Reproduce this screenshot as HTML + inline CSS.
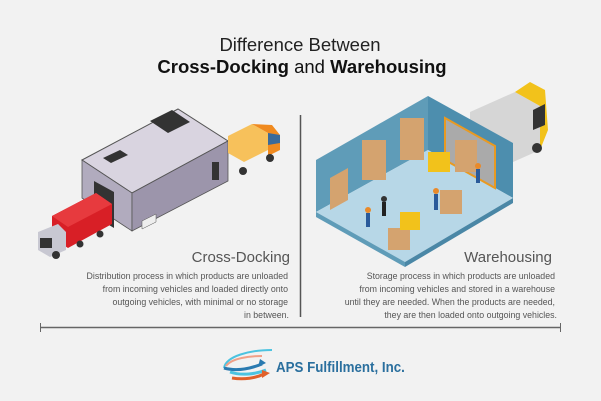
<!DOCTYPE html>
<html><head><meta charset="utf-8"><style>
html,body{margin:0;padding:0;background:#f2f2f2}
svg{display:block}
text{font-family:"Liberation Sans",sans-serif}
</style></head><body>
<svg width="601" height="401" viewBox="0 0 601 401" xmlns="http://www.w3.org/2000/svg">
<rect width="601" height="401" fill="#f2f2f2"/>
<text x="300" y="51" font-size="18.5" text-anchor="middle" fill="#222">Difference Between</text>
<text x="302" y="73" font-size="18.5" text-anchor="middle" fill="#111"><tspan font-weight="bold">Cross-Docking</tspan> and <tspan font-weight="bold">Warehousing</tspan></text>

<!-- Cross-dock building -->
<polygon points="82,160 178,109 228,141 132,193" fill="#d9d4e0" stroke="#555" stroke-width="1"/>
<polygon points="82,160 132,193 132,231 82,198" fill="#b1abbe" stroke="#555" stroke-width="0.8"/>
<polygon points="132,193 228,141 228,181 132,231" fill="#9c95ab" stroke="#555" stroke-width="0.8"/>
<polygon points="150,121 172,110 190,122 168,133" fill="#333"/>
<polygon points="103,158 120,150 128,155 111,163" fill="#333"/>
<polygon points="94,181 114,192 114,228 94,216" fill="#333"/>
<rect x="212" y="162" width="7" height="18" fill="#333"/>
<polygon points="142,221 156,214 156,222 142,229" fill="#eee" stroke="#555" stroke-width="0.5"/>
<!-- orange truck -->
<polygon points="228,136 252,124 268,133 268,150 244,162 228,153" fill="#f7c15b"/>
<polygon points="252,124 272,125 280,135 280,150 268,156 268,133" fill="#f08a1f"/>
<polygon points="268,133 280,135 280,143 268,145" fill="#3a6a9a"/>
<circle cx="243" cy="171" r="4" fill="#333"/><circle cx="270" cy="158" r="4" fill="#333"/>
<!-- red truck -->
<polygon points="52,216 96,193 112,204 112,224 68,248 52,238" fill="#d81f26"/>
<polygon points="52,216 96,193 112,204 68,227" fill="#e73a3e"/>
<polygon points="38,232 58,224 66,232 66,250 50,257 38,250" fill="#c8c8d2"/>
<rect x="40" y="238" width="12" height="10" fill="#333"/>
<circle cx="56" cy="255" r="4" fill="#333"/><circle cx="80" cy="244" r="3.5" fill="#333"/><circle cx="100" cy="234" r="3.5" fill="#333"/>

<!-- truck behind warehouse -->
<polygon points="470,112 515,92 540,106 540,150 495,170 470,156" fill="#d6d6d6"/>
<polygon points="515,92 530,82 545,90 548,130 540,150 540,106" fill="#f2c21b"/>
<polygon points="533,110 545,104 545,125 533,130" fill="#333"/>
<circle cx="537" cy="148" r="5" fill="#333"/>
<!-- warehouse -->
<polygon points="316,160 428,96 428,150 316,212" fill="#5f9cb8"/>
<polygon points="428,96 513,143 513,198 428,150" fill="#4d8eae"/>
<polygon points="316,212 428,150 513,198 405,262" fill="#b7d7e7"/>
<polygon points="316,212 405,262 405,267 316,217" fill="#5f9cb8"/>
<polygon points="405,262 513,198 513,203 405,267" fill="#4a87a6"/>
<polygon points="445,118 495,146 495,188 445,160" fill="#aaa" stroke="#e99a22" stroke-width="2"/>
<polygon points="330,178 348,168 348,200 330,210" fill="#d4a36f"/>
<rect x="362" y="140" width="24" height="40" fill="#d4a36f"/>
<rect x="400" y="118" width="24" height="42" fill="#d4a36f"/>
<rect x="455" y="140" width="22" height="32" fill="#d4a36f"/>
<rect x="440" y="190" width="22" height="24" fill="#d4a36f"/>
<rect x="388" y="228" width="22" height="22" fill="#d4a36f"/>
<rect x="428" y="152" width="22" height="20" fill="#f2c21b"/>
<rect x="400" y="212" width="20" height="18" fill="#f2c21b"/>
<circle cx="368" cy="210" r="3" fill="#e98a2a"/><rect x="366" y="213" width="4" height="14" fill="#2a5a9a"/>
<circle cx="384" cy="199" r="3" fill="#333"/><rect x="382" y="202" width="4" height="14" fill="#222"/>
<circle cx="436" cy="191" r="3" fill="#e98a2a"/><rect x="434" y="194" width="4" height="16" fill="#2a5a9a"/>
<circle cx="478" cy="166" r="3" fill="#e98a2a"/><rect x="476" y="169" width="4" height="14" fill="#2a5a9a"/>

<line x1="300.5" y1="115" x2="300.5" y2="317" stroke="#555" stroke-width="1.5"/>

<text x="290" y="262" font-size="15" text-anchor="end" fill="#555">Cross-Docking</text>
<text x="552" y="262" font-size="15" text-anchor="end" fill="#555">Warehousing</text>
<g font-size="8.8" fill="#555" text-anchor="end">
<text x="288" y="279">Distribution process in which products are unloaded</text>
<text x="288" y="292">from incoming vehicles and loaded directly onto</text>
<text x="288" y="305">outgoing vehicles, with minimal or no storage</text>
<text x="289" y="318">in between.</text>
<text x="555" y="279">Storage process in which products are unloaded</text>
<text x="555" y="292">from incoming vehicles and stored in a warehouse</text>
<text x="555" y="305">until they are needed. When the products are needed,</text>
<text x="557" y="318">they are then loaded onto outgoing vehicles.</text>
</g>
<line x1="40" y1="327.5" x2="560" y2="327.5" stroke="#666" stroke-width="1.5"/>
<line x1="40.5" y1="323" x2="40.5" y2="332" stroke="#666" stroke-width="1"/>
<line x1="560.5" y1="323" x2="560.5" y2="332" stroke="#666" stroke-width="1"/>

<!-- logo -->
<path d="M224,368 C226,356 250,350 272,350" stroke="#4cc3e0" stroke-width="2" fill="none"/>
<path d="M226,366 C232,358 250,356 262,356" stroke="#f0a088" stroke-width="2" fill="none"/>
<path d="M224,368 C238,372 252,368 262,364" stroke="#2a7ab0" stroke-width="3" fill="none"/>
<polygon points="260,359 266,363 258,367" fill="#2a7ab0"/>
<path d="M230,372 C242,376 256,374 266,370" stroke="#4cc3e0" stroke-width="3" fill="none"/>
<path d="M232,378 C244,380 256,378 264,374" stroke="#e0602a" stroke-width="3" fill="none"/>
<polygon points="262,370 270,373 262,378" fill="#e0602a"/>
<text x="276" y="372" font-size="14.5" fill="#2a6f9e" font-weight="bold" transform="scale(0.92,1)" transform-origin="276 372">APS Fulfillment, Inc.</text>
</svg>
</body></html>
